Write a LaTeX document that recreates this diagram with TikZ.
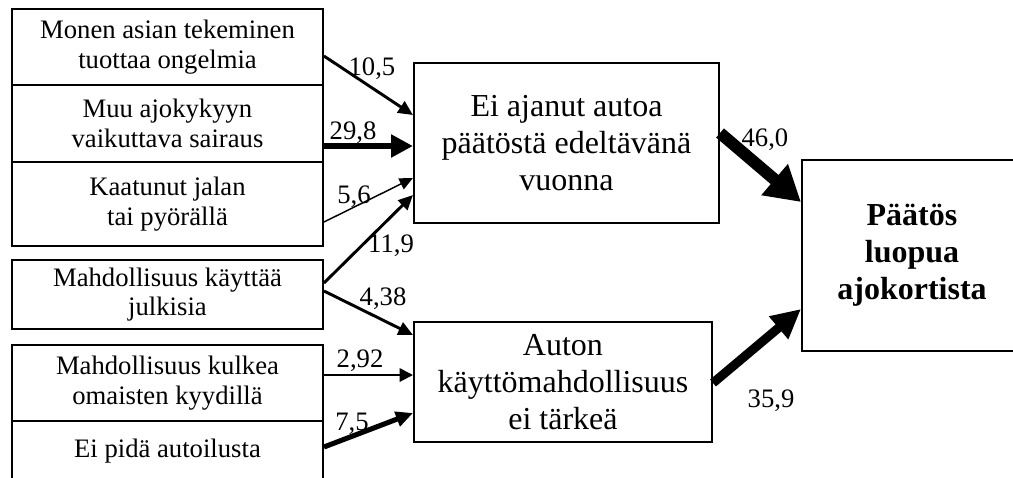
\documentclass[tikz,border=0pt]{standalone}
\usepackage{fontspec}
\setmainfont{Liberation Serif}
\usetikzlibrary{arrows.meta,calc}

\begin{document}
\begin{tikzpicture}[x=0.375pt, y=-0.375pt,
	cause/.style={rectangle, draw=black, line width=0.75pt, minimum width=116.6pt, inner sep=1pt, align=center, font=\fontsize{10}{11}\selectfont},
	mid/.style={rectangle, draw=black, line width=0.75pt, inner sep=1pt, align=center, font=\fontsize{12}{13.9}\selectfont},
	coef/.style={inner sep=1pt, font=\fontsize{10}{12}\selectfont},
	link/.style n args={3}{draw=black, line width=#1, -{Triangle[length=#2,width=#3]}}]
		\useasboundingbox (0,0) rectangle (1013,477);
		% background factors
		\node[cause, minimum height=28.5pt](monen) at (167.5,47){Monen asian tekeminen\\tuottaa ongelmia};
		\node[cause, minimum height=28.9pt](muu) at (167.5,123.5){Muu ajokykyyn\\vaikuttava sairaus};
		\node[cause, minimum height=31.5pt](kaatunut) at (167.5,204){Kaatunut jalan\\tai pyörällä};
		\node[cause, minimum height=25.9pt](julkiset) at (167.5,294.5){Mahdollisuus käyttää\\julkisia};
		\node[cause, minimum height=28.5pt](kyyti) at (167.5,383){Mahdollisuus kulkea\\omaisten kyydillä};
		\node[cause, minimum height=22.9pt](autoilu) at (167.5,451.5){Ei pidä autoilusta};
		% mediators and outcome
		\node[mid, minimum width=114.4pt, minimum height=60pt](eiajanut) at (566.5,143){Ei ajanut autoa\\päätöstä edeltävänä\\vuonna};
		\node[mid, minimum width=111.75pt, minimum height=45pt](kaytto) at (563,382){Auton\\käyttömahdollisuus\\ei tärkeä};
		\node[mid, font=\fontsize{12}{13.9}\selectfont\bfseries, minimum width=82.5pt, minimum height=71.6pt](paatos) at (912,255.5){Päätös\\luopua\\ajokortista};

		\draw[link={1.1pt}{5.5pt}{5pt}] ($(monen.east)+(0,9)$) -- ($(eiajanut.west)+(0,-28)$);
		\draw[link={2.6pt}{8.2pt}{8.2pt}] ($(muu.east)+(0,22.5)$) -- ($(eiajanut.west)+(0,3)$);
		\draw[link={0.55pt}{5pt}{4.5pt}] ($(kaatunut.east)+(0,18)$) -- ($(eiajanut.west)+(0,35)$);
		\draw[link={1.1pt}{5.5pt}{5pt}] ($(julkiset.east)+(0,-11.5)$) -- ($(eiajanut.west)+(0,52)$);
		\draw[link={1.1pt}{5.5pt}{5pt}] ($(julkiset.east)+(0,-3.5)$) -- ($(kaytto.west)+(0,-47)$);
		\draw[link={0.75pt}{5pt}{5pt}] ($(kyyti.east)+(0,-8)$) -- ($(kaytto.west)+(0,-7)$);
		\draw[link={1.9pt}{6.4pt}{5.6pt}] ($(autoilu.east)+(0,-4.5)$) -- ($(kaytto.west)+(0,31)$);
		\draw[link={4.5pt}{13pt}{14.5pt}] ($(eiajanut.east)+(0,-10)$) -- ($(paatos.west)+(0,-53.5)$);
		\draw[link={3.4pt}{11pt}{10.5pt}] ($(kaytto.east)+(0,1)$) -- ($(paatos.west)+(0,53.5)$);

		% coefficients
		\node[coef](k105) at (372,69){10,5};
		\node[coef](k298) at (353,133){29,8};
		\node[coef](k56) at (354,197){5,6};
		\node[coef](k119) at (391,246){11,9};
		\node[coef](k438) at (383,299){4,38};
		\node[coef](k292) at (360,361){2,92};
		\node[coef](k75) at (352,424){7,5};
		\node[coef](k460) at (765,140){46,0};
		\node[coef](k359) at (771,401){35,9};
	\end{tikzpicture}
\end{document}
